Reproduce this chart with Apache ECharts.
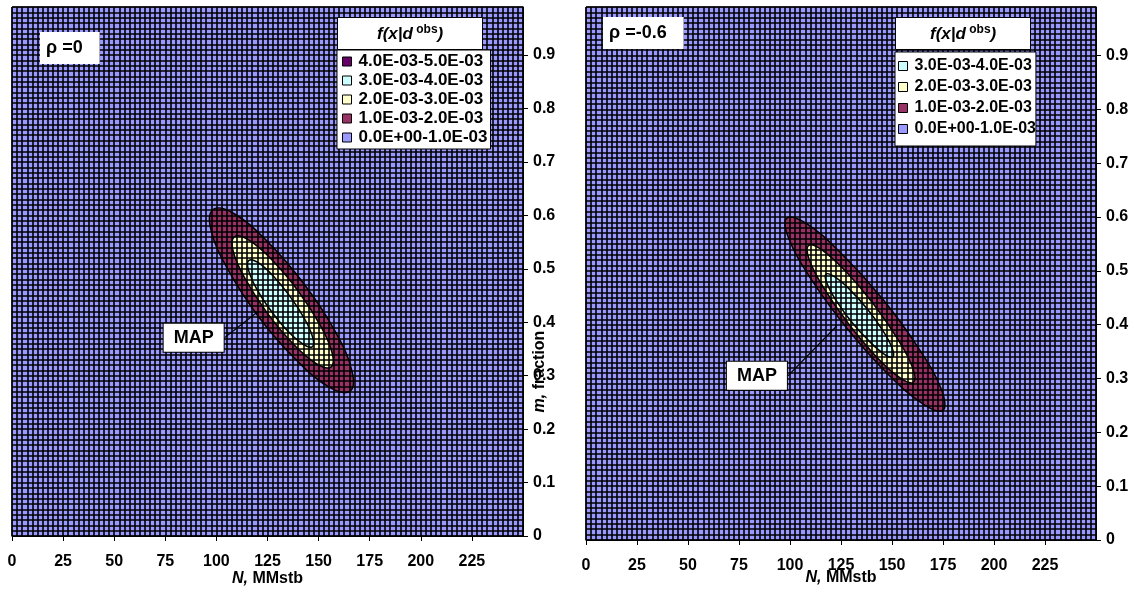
<!DOCTYPE html>
<html>
<head>
<meta charset="utf-8">
<script src="https://cdn.jsdelivr.net/npm/echarts@6/dist/echarts.min.js"></script>
<style>
html, body { margin: 0; padding: 0; background: #fff; }
#chart { width: 1134px; height: 592px; }
</style>
</head>
<body>
<div id="chart"></div>
<script>
// density bands, highest first (legend order)
var bandNames = ['4.0E-03-5.0E-03', '3.0E-03-4.0E-03', '2.0E-03-3.0E-03', '1.0E-03-2.0E-03', '0.0E+00-1.0E-03'];
var bandColors = ['#660066', '#CCFFFF', '#FFFFCC', '#993366', '#9999FF'];

// contour outlines, [N (MMstb), m (fraction)]
// rho = 0
var leftBand1 = [[165.4, 0.271], [166.3, 0.309], [158.1, 0.383], [142.8, 0.472], [124.5, 0.553], [108.3, 0.604],
  [98.3, 0.611], [97.4, 0.572], [105.6, 0.499], [120.9, 0.409], [139.2, 0.329], [155.4, 0.278]];
var leftBand2 = [[156.0, 0.316], [156.6, 0.343], [150.7, 0.395], [139.9, 0.459], [127.1, 0.517], [115.7, 0.554],
  [108.8, 0.560], [108.2, 0.533], [114.1, 0.481], [124.9, 0.417], [137.7, 0.359], [149.1, 0.322]];
var leftBand3 = [[146.9, 0.354], [147.1, 0.372], [143.2, 0.406], [136.1, 0.448], [127.7, 0.487], [120.3, 0.512],
  [115.9, 0.516], [115.6, 0.499], [119.5, 0.464], [126.6, 0.422], [135.0, 0.383], [142.4, 0.359]];
// rho = -0.6
var rightBand1 = [[175.0, 0.241], [174.3, 0.279], [163.4, 0.354], [145.5, 0.447], [125.2, 0.532], [108.0, 0.588],
  [98.5, 0.598], [99.3, 0.561], [110.1, 0.486], [128.0, 0.393], [148.3, 0.307], [165.5, 0.252]];
var rightBand2 = [[160.5, 0.293], [160.2, 0.319], [153.0, 0.372], [141.0, 0.438], [127.3, 0.499], [115.6, 0.539],
  [109.1, 0.547], [109.4, 0.521], [116.6, 0.468], [128.6, 0.402], [142.2, 0.341], [154.0, 0.301]];
var rightBand3 = [[150.4, 0.340], [150.1, 0.356], [145.5, 0.389], [137.9, 0.429], [129.1, 0.466], [121.8, 0.489],
  [117.7, 0.494], [118.0, 0.478], [122.6, 0.445], [130.2, 0.405], [138.9, 0.369], [146.3, 0.345]];

// MAP estimates
var leftMap = [119.7, 0.418];
var rightMap = [122.5, 0.396];

var FONT = 'Liberation Sans';
var myChart = echarts.init(document.getElementById('chart'));

function bandSeries(name, color, pts, gi) {
    return {
        type: 'custom', name: name, xAxisIndex: gi, yAxisIndex: gi,
        data: pts, encode: { x: 0, y: 1 }, z: 2, silent: true,
        itemStyle: { color: color },
        renderItem: function (params, api) {
            if (params.dataIndex !== 0) return null;
            var points = pts.map(function (p) { return api.coord(p); });
            return {
                type: 'polygon',
                shape: { points: points, smooth: 0.4 },
                style: { fill: color, stroke: '#000', lineWidth: 1.5 }
            };
        }
    };
}
function emptySeries(name, color, gi) {
    return {
        type: 'custom', name: name, xAxisIndex: gi, yAxisIndex: gi, data: [],
        itemStyle: { color: color }, renderItem: function () { return null; }
    };
}
function mapSeries(pt, gi, dx, dy) {
    return {
        type: 'scatter', xAxisIndex: gi, yAxisIndex: gi, data: [pt], z: 10, silent: true,
        symbolSize: 2, itemStyle: { color: '#000', opacity: 1 },
        label: {
            show: true, position: 'inside', formatter: 'MAP',
            fontFamily: FONT, fontSize: 18, fontWeight: 'bold', color: '#000',
            backgroundColor: '#fff', borderColor: '#000', borderWidth: 1, padding: [5, 10]
        },
        labelLayout: { dx: dx, dy: dy },
        labelLine: { show: true, lineStyle: { color: '#000', width: 1.2, opacity: 1 } }
    };
}
function xAxis(gi, gap) {
    return {
        type: 'value', gridIndex: gi, min: 0, max: 250, interval: 25, z: 5,
        axisLine: { show: true, onZero: false, lineStyle: { color: '#000', width: 1 } },
        axisTick: { show: true, length: 5, lineStyle: { color: '#000' } },
        axisLabel: { showMaxLabel: false, margin: 18, fontFamily: FONT, fontSize: 16, fontWeight: 'bold', color: '#000' },
        splitLine: { show: true, lineStyle: { color: '#000', width: 1.6 } },
        minorTick: { show: false, splitNumber: 10 },
        minorSplitLine: { show: true, lineStyle: { color: '#000', width: 1.6 } },
        name: '{i|N,}{r| MMstb}', nameLocation: 'middle', nameGap: gap, nameMoveOverlap: false,
        nameTextStyle: {
            rich: {
                i: { fontFamily: FONT, fontSize: 16, fontWeight: 'bold', fontStyle: 'italic', color: '#000' },
                r: { fontFamily: FONT, fontSize: 16, fontWeight: 'bold', color: '#000' }
            }
        }
    };
}
function yAxis(gi, withName) {
    var ax = {
        type: 'value', gridIndex: gi, position: 'right', min: 0, max: 0.99, interval: 0.1, z: 5,
        axisLine: { show: true, onZero: false, lineStyle: { color: '#000', width: 1 } },
        axisTick: { show: true, length: 5, lineStyle: { color: '#000' } },
        axisLabel: { showMaxLabel: false, margin: 10, fontFamily: FONT, fontSize: 16, fontWeight: 'bold', color: '#000' },
        splitLine: { show: true, lineStyle: { color: '#000', width: 1.6 } },
        minorTick: { show: false, splitNumber: 10 },
        minorSplitLine: { show: true, lineStyle: { color: '#000', width: 1.6 } }
    };
    if (withName) {
        ax.name = '{i|m,}{r| fraction}';
        ax.nameLocation = 'middle';
        ax.nameRotate = 90;
        ax.nameGap = 9;
        ax.nameMoveOverlap = false;
        ax.nameTextStyle = {
            padding: [0, 200, 0, 0],
            rich: {
                i: { fontFamily: FONT, fontSize: 16, fontWeight: 'bold', fontStyle: 'italic', color: '#000' },
                r: { fontFamily: FONT, fontSize: 16, fontWeight: 'bold', color: '#000' }
            }
        };
    }
    return ax;
}
function rhoTitle(text, left, top) {
    return {
        text: text, left: left, top: top, z: 20, padding: [7, 17, 7, 6], backgroundColor: '#fff',
        textStyle: { fontFamily: FONT, fontSize: 18, fontWeight: 'bold', color: '#000' }
    };
}
function densTitle(left, top, padX) {
    return {
        text: '{a|f(x|d}{b| obs}{a|)}', left: left, top: top, z: 20, padding: [7, padX],
        backgroundColor: '#fff', borderColor: '#000', borderWidth: 1,
        textStyle: {
            rich: {
                a: { fontFamily: FONT, fontSize: 17, fontWeight: 'bold', fontStyle: 'italic', color: '#000', lineHeight: 20 },
                b: { fontFamily: FONT, fontSize: 12, fontWeight: 'bold', color: '#000', verticalAlign: 'top', lineHeight: 12 }
            }
        }
    };
}
function legendBox(names, left, top, fontSize, gap, pad) {
    return {
        data: names, left: left, top: top, orient: 'vertical', z: 20, selectedMode: false,
        backgroundColor: '#fff', borderColor: '#000', borderWidth: 1, padding: pad,
        itemGap: gap, itemWidth: 9, itemHeight: 9, icon: 'rect',
        itemStyle: { borderColor: '#000', borderWidth: 1 },
        textStyle: { fontFamily: FONT, fontSize: fontSize, fontWeight: 'bold', color: '#000', padding: [0, 0, 0, 2] }
    };
}

myChart.setOption({
    animation: false,
    title: [
        rhoTitle('ρ =0', 40, 32),
        rhoTitle('ρ =-0.6', 603, 17),
        densTitle(337, 17, 40),
        densTitle(895, 17, 35)
    ],
    legend: [
        legendBox(bandNames, 337, 50, 17, 2, [3, 3, 3, 5]),
        legendBox(bandNames.slice(1), 895, 52, 16, 5, [6, 0, 9, 3])
    ],
    grid: [
        { left: 12, top: 7, width: 511, height: 530, show: true, backgroundColor: '#9999FF', borderColor: '#000', borderWidth: 1 },
        { left: 586, top: 7, width: 510, height: 533, show: true, backgroundColor: '#9999FF', borderColor: '#000', borderWidth: 1 }
    ],
    xAxis: [xAxis(0, 35), xAxis(1, 30)],
    yAxis: [yAxis(0, true), yAxis(1, false)],
    series: [
        emptySeries(bandNames[4], bandColors[4], 0),
        bandSeries(bandNames[3], bandColors[3], leftBand1, 0),
        bandSeries(bandNames[2], bandColors[2], leftBand2, 0),
        bandSeries(bandNames[1], bandColors[1], leftBand3, 0),
        emptySeries(bandNames[0], bandColors[0], 0),
        emptySeries(bandNames[4], bandColors[4], 1),
        bandSeries(bandNames[3], bandColors[3], rightBand1, 1),
        bandSeries(bandNames[2], bandColors[2], rightBand2, 1),
        bandSeries(bandNames[1], bandColors[1], rightBand3, 1),
        mapSeries(leftMap, 0, -63, 25),
        mapSeries(rightMap, 1, -79, 49)
    ]
});
</script>
</body>
</html>
